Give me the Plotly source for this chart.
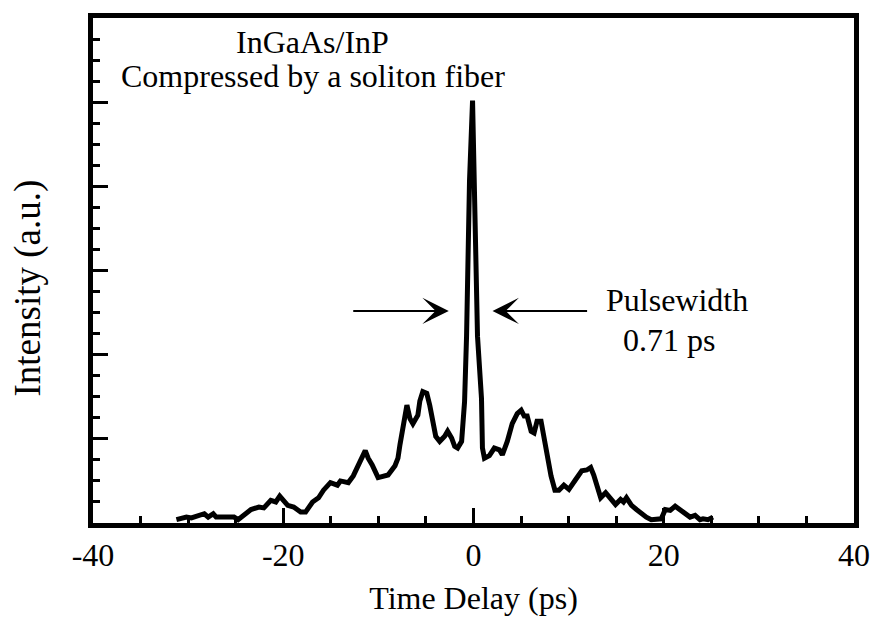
import plotly.graph_objects as go

# Time delay (ps) and intensity (a.u.)
time_ps = [-31.23, -30.18, -29.66, -28.30, -27.89, -27.36, -27.05, -25.17, -24.75, -24.23,
           -23.39, -22.56, -22.04, -21.31, -20.78, -20.37, -19.95, -19.53, -18.90, -18.17,
           -17.65, -16.92, -16.29, -15.77, -15.04, -14.31, -13.99, -13.16, -12.64, -12.22,
           -11.70, -11.38, -11.07, -10.65, -10.03, -9.50, -8.98, -8.25, -7.94, -7.73,
           -7.52, -7.21, -7.00, -6.68, -6.37, -5.85, -5.64, -5.33, -4.91, -4.60,
           -4.28, -3.97, -3.55, -3.03, -2.72, -2.30, -1.98, -1.67, -1.25, -1.15,
           -0.94, -0.73, -0.42, -0.10, 0.10, 0.42, 0.84, 0.94, 1.15, 1.67,
           2.19, 2.72, 3.03, 3.55, 4.07, 4.60, 5.01, 5.33, 5.64, 6.06,
           6.37, 6.68, 7.10, 7.42, 7.73, 8.15, 8.56, 8.98, 9.50, 10.03,
           10.76, 11.38, 11.91, 12.32, 12.64, 12.95, 13.37, 13.89, 14.41, 14.93,
           15.46, 15.77, 16.08, 16.61, 17.13, 17.65, 18.17, 18.69, 19.22, 19.74,
           20.16, 20.68, 21.20, 21.72, 22.25, 22.77, 23.29, 23.81, 24.13, 24.65,
           25.17]
intensity = [0.04, 0.07, 0.06, 0.11, 0.07, 0.11, 0.07, 0.07, 0.04, 0.09,
             0.16, 0.19, 0.18, 0.27, 0.25, 0.32, 0.26, 0.21, 0.19, 0.13,
             0.13, 0.25, 0.30, 0.39, 0.48, 0.45, 0.50, 0.48, 0.56, 0.66,
             0.80, 0.86, 0.77, 0.69, 0.54, 0.56, 0.57, 0.68, 0.77, 0.93,
             1.09, 1.32, 1.40, 1.24, 1.18, 1.28, 1.45, 1.56, 1.54, 1.40,
             1.22, 1.03, 0.97, 1.03, 1.09, 1.01, 0.91, 0.89, 0.97, 1.09,
             1.44, 2.22, 4.06, 5.02, 4.06, 2.22, 1.48, 0.89, 0.77, 0.80,
             0.89, 0.87, 0.81, 0.97, 1.18, 1.30, 1.34, 1.27, 1.27, 1.09,
             1.07, 1.21, 1.21, 1.01, 0.81, 0.56, 0.39, 0.39, 0.45, 0.40,
             0.52, 0.62, 0.63, 0.66, 0.57, 0.46, 0.30, 0.36, 0.28, 0.22,
             0.28, 0.25, 0.30, 0.21, 0.16, 0.11, 0.07, 0.04, 0.05, 0.05,
             0.16, 0.15, 0.20, 0.16, 0.11, 0.07, 0.09, 0.04, 0.05, 0.04,
             0.07]

x_tick_vals = [-40, -20, 0, 20, 40]
x_tick_text = ["-40", "-20", "0", "20", "40"]

title_lines = ["InGaAs/InP", "Compressed by a soliton fiber"]
pulse_lines = ["Pulsewidth", "0.71 ps"]
y_title = "Intensity (a.u.)"

FONT = "Liberation Serif, Times New Roman, serif"
FS = 32

fig = go.Figure()
fig.add_trace(go.Scatter(x=time_ps, y=intensity, mode="lines",
                         line=dict(color="black", width=5), showlegend=False))

fig.update_layout(
    width=882, height=620,
    margin=dict(l=93, r=27.5, t=17.5, b=96.5, autoexpand=False),
    paper_bgcolor="white", plot_bgcolor="white",
    font=dict(family=FONT, size=FS, color="black"),
    showlegend=False,
)
fig.update_xaxes(
    range=[-40, 40], tickvals=x_tick_vals, ticktext=x_tick_text,
    ticks="inside", ticklen=15, tickwidth=2.5, tickcolor="black",
    minor=dict(dtick=5, tick0=0, ticks="inside", ticklen=7, tickwidth=2.5, tickcolor="black"),
    showline=True, linewidth=5, linecolor="black", mirror=True,
    showgrid=False, zeroline=False,
    tickfont=dict(size=FS, family=FONT),
    title=dict(text="Time Delay (ps)", font=dict(size=FS, family=FONT), standoff=16),
    automargin=False,
)
fig.update_yaxes(
    range=[0, 6], dtick=1, tick0=0, showticklabels=False,
    ticks="inside", ticklen=15, tickwidth=2.5, tickcolor="black",
    minor=dict(dtick=0.25, tick0=0, ticks="inside", ticklen=7, tickwidth=2.5, tickcolor="black"),
    showline=True, linewidth=5, linecolor="black", mirror=True,
    showgrid=False, zeroline=False,
    automargin=False,
)

# Y axis title (placed slightly below the plot centre as in the reference)
fig.add_annotation(x=-0.085, y=0.465, xref="paper", yref="paper", text=y_title,
                   textangle=-90, showarrow=False, xanchor="center", yanchor="middle",
                   font=dict(size=37, family=FONT))

# Title text inside the plot
fig.add_annotation(x=-16.9, y=5.72, xref="x", yref="y", text=title_lines[0],
                   showarrow=False, font=dict(size=FS, family=FONT))
fig.add_annotation(x=-16.9, y=5.31, xref="x", yref="y", text=title_lines[1],
                   showarrow=False, font=dict(size=FS, family=FONT))
fig.add_annotation(x=21.4, y=2.65, xref="x", yref="y", text=pulse_lines[0],
                   showarrow=False, font=dict(size=FS, family=FONT))
fig.add_annotation(x=20.6, y=2.18, xref="x", yref="y", text=pulse_lines[1],
                   showarrow=False, font=dict(size=FS, family=FONT))

# Pulsewidth arrows
arrow_y = 2.52
fig.add_annotation(x=-2.6, y=arrow_y, ax=-12.8, ay=arrow_y, xref="x", yref="y",
                   axref="x", ayref="y", text="", showarrow=True,
                   arrowhead=3, arrowsize=2.2, arrowwidth=2, arrowcolor="black")
fig.add_annotation(x=2.0, y=arrow_y, ax=12.1, ay=arrow_y, xref="x", yref="y",
                   axref="x", ayref="y", text="", showarrow=True,
                   arrowhead=3, arrowsize=2.2, arrowwidth=2, arrowcolor="black")

fig.write_html("out.html")
